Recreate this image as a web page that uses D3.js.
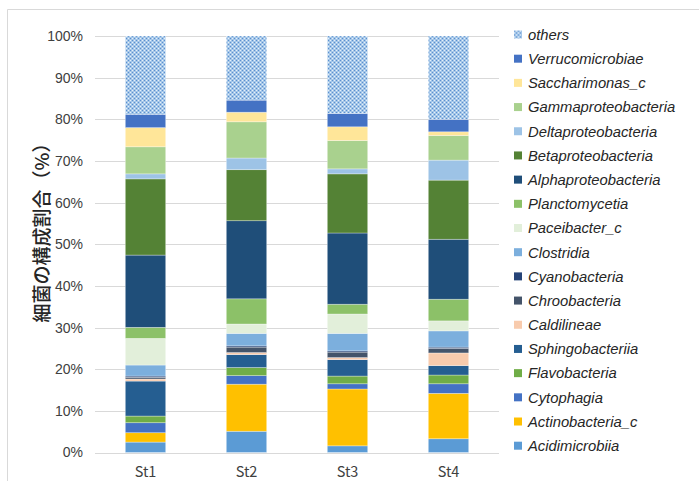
<!DOCTYPE html>
<html>
<head>
<meta charset="utf-8">
<script src="https://cdn.jsdelivr.net/npm/d3@7"></script>
<style>
  html, body { margin: 0; padding: 0; background: #fff; }
  svg { display: block; }
</style>
</head>
<body>
<svg id="chart" width="699" height="490"></svg>
<script>
// Sampling stations
const stations = ["St1", "St2", "St3", "St4"];

// Bacterial classes, stacked bottom to top
const taxa = [
  "Acidimicrobiia", "Actinobacteria_c", "Cytophagia", "Flavobacteria",
  "Sphingobacteriia", "Caldilineae", "Chroobacteria", "Cyanobacteria",
  "Clostridia", "Paceibacter_c", "Planctomycetia", "Alphaproteobacteria",
  "Betaproteobacteria", "Deltaproteobacteria", "Gammaproteobacteria",
  "Saccharimonas_c", "Verrucomicrobiae", "others"
];

// Relative abundance (%) per station, one array per class, in station order
const Acidimicrobiia      = [2.5, 5.1, 1.6, 3.3];
const Actinobacteria_c    = [2.25, 11.3, 13.65, 10.9];
const Cytophagia          = [2.4, 2.05, 1.25, 2.3];
const Flavobacteria       = [1.6, 1.95, 1.85, 2.1];
const Sphingobacteriia    = [8.4, 3.1, 3.95, 2.25];
const Caldilineae         = [0.5, 0.5, 0.5, 3.05];
const Chroobacteria       = [0.4, 1.3, 1.3, 1.1];
const Cyanobacteria       = [0.3, 0.3, 0.3, 0.3];
const Clostridia          = [2.65, 3.0, 4.2, 3.9];
const Paceibacter_c       = [6.4, 2.25, 4.65, 2.4];
const Planctomycetia      = [2.65, 6.05, 2.35, 5.2];
const Alphaproteobacteria = [17.35, 18.75, 17.1, 14.4];
const Betaproteobacteria  = [18.3, 12.25, 14.2, 14.2];
const Deltaproteobacteria = [1.2, 2.8, 1.2, 4.8];
const Gammaproteobacteria = [6.5, 8.7, 6.8, 5.9];
const Saccharimonas_c     = [4.6, 2.3, 3.3, 0.9];
const Verrucomicrobiae    = [3.2, 2.9, 3.2, 3.0];
const others              = [18.8, 15.4, 18.6, 20.0];

// Y-axis tick values (%)
const yTicks = [0, 10, 20, 30, 40, 50, 60, 70, 80, 90, 100];

const seriesValues = {
  Acidimicrobiia, Actinobacteria_c, Cytophagia, Flavobacteria,
  Sphingobacteriia, Caldilineae, Chroobacteria, Cyanobacteria,
  Clostridia, Paceibacter_c, Planctomycetia, Alphaproteobacteria,
  Betaproteobacteria, Deltaproteobacteria, Gammaproteobacteria,
  Saccharimonas_c, Verrucomicrobiae, others
};

const colors = {
  Acidimicrobiia: "#5b9bd5",
  Actinobacteria_c: "#ffc000",
  Cytophagia: "#4472c4",
  Flavobacteria: "#70ad47",
  Sphingobacteriia: "#255e91",
  Caldilineae: "#f8cbad",
  Chroobacteria: "#44546a",
  Cyanobacteria: "#264478",
  Clostridia: "#7cafdd",
  Paceibacter_c: "#e2efda",
  Planctomycetia: "#8cc168",
  Alphaproteobacteria: "#1f4e79",
  Betaproteobacteria: "#548235",
  Deltaproteobacteria: "#9dc3e6",
  Gammaproteobacteria: "#a9d18e",
  Saccharimonas_c: "#ffe699",
  Verrucomicrobiae: "#4472c4",
  others: "url(#othersPattern)"
};

// Table rows for d3.stack
const rows = stations.map((s, i) => {
  const r = { station: s };
  taxa.forEach(t => { r[t] = seriesValues[t][i]; });
  return r;
});

const svg = d3.select("#chart");

// Fine checker fill for "others"
const defs = svg.append("defs");
const pat = defs.append("pattern")
  .attr("id", "othersPattern")
  .attr("patternUnits", "userSpaceOnUse")
  .attr("width", 4).attr("height", 4);
pat.append("rect").attr("width", 4).attr("height", 4).attr("fill", "#a4c6e8");
[[0, 0], [2, 2]].forEach(([x, y]) =>
  pat.append("rect").attr("x", x).attr("y", y).attr("width", 1).attr("height", 1).attr("fill", "#5b8fcf"));
[[2, 0], [0, 2]].forEach(([x, y]) =>
  pat.append("rect").attr("x", x).attr("y", y).attr("width", 1).attr("height", 1).attr("fill", "#e6f0fa"));

// Chart frame (top and left edges)
svg.append("line").attr("x1", 7.5).attr("x2", 699).attr("y1", 9.5).attr("y2", 9.5)
  .attr("stroke", "#d9d9d9");
svg.append("line").attr("x1", 7.5).attr("x2", 7.5).attr("y1", 9.5).attr("y2", 481)
  .attr("stroke", "#d9d9d9");

const plot = { left: 95, right: 499, top: 36, bottom: 452.5 };

const x = d3.scaleBand()
  .domain(stations)
  .range([plot.left, plot.right])
  .paddingInner(0.6)
  .paddingOuter(0.3);

const y = d3.scaleLinear()
  .domain([0, 100])
  .range([plot.bottom, plot.top]);

// Gridlines
svg.append("g")
  .selectAll("line")
  .data(yTicks)
  .join("line")
  .attr("x1", plot.left).attr("x2", plot.right)
  .attr("y1", d => Math.round(y(d)) + 0.5)
  .attr("y2", d => Math.round(y(d)) + 0.5)
  .attr("stroke", "#d9d9d9")
  .attr("stroke-width", 1);

// Y-axis tick labels
const yAxis = d3.axisLeft(y)
  .tickValues(yTicks)
  .tickFormat(d => d + "%")
  .tickSize(0)
  .tickPadding(12);
const yg = svg.append("g")
  .attr("transform", `translate(${plot.left},0)`)
  .call(yAxis);
yg.select(".domain").remove();
yg.selectAll("text")
  .attr("font-family", "'Liberation Sans Narrow', 'Liberation Sans', Arial, sans-serif")
  .attr("font-size", 14)
  .attr("fill", "#404040");

// X-axis labels
const xAxis = d3.axisBottom(x).tickSize(0).tickPadding(14);
const xg = svg.append("g")
  .attr("transform", `translate(0,${plot.bottom})`)
  .call(xAxis);
xg.select(".domain").remove();
xg.selectAll("text")
  .attr("font-family", "'Noto Sans CJK JP', sans-serif")
  .attr("font-size", 14.5)
  .attr("fill", "#404040");

// Stacked bars
const stack = d3.stack().keys(taxa);
const layers = stack(rows);

svg.append("g")
  .selectAll("g")
  .data(layers)
  .join("g")
  .attr("fill", d => colors[d.key])
  .selectAll("rect")
  .data(d => d)
  .join("rect")
  .attr("x", d => x(d.data.station))
  .attr("width", x.bandwidth())
  .attr("y", d => y(d[1]))
  .attr("height", d => y(d[0]) - y(d[1]))
  .attr("stroke", "#ffffff")
  .attr("stroke-opacity", 0.45)
  .attr("stroke-width", 0.7);

// Y-axis title
svg.append("text")
  .attr("transform", "translate(49,228) rotate(-90)")
  .attr("text-anchor", "middle")
  .attr("font-family", "'Noto Sans CJK JP', sans-serif")
  .attr("font-size", 19)
  .attr("font-weight", 500)
  .attr("fill", "#262626")
  .text("細菌の構成割合（%）");

// Legend, top entry is the top of the stack
const legendItems = taxa.slice().reverse();
const lg = svg.append("g").attr("transform", "translate(514,0)");
const ly = d3.scalePoint().domain(legendItems).range([34.5, 445.7]);
const item = lg.selectAll("g")
  .data(legendItems)
  .join("g")
  .attr("transform", d => `translate(0,${ly(d)})`);
item.append("rect")
  .attr("x", 0).attr("y", -4)
  .attr("width", 8).attr("height", 8)
  .attr("fill", d => colors[d]);
item.append("text")
  .attr("x", 14)
  .attr("dy", "0.36em")
  .attr("font-family", "'Liberation Sans', Arial, sans-serif")
  .attr("font-style", "italic")
  .attr("font-size", 14.8)
  .attr("fill", "#262626")
  .text(d => d);
</script>
</body>
</html>
